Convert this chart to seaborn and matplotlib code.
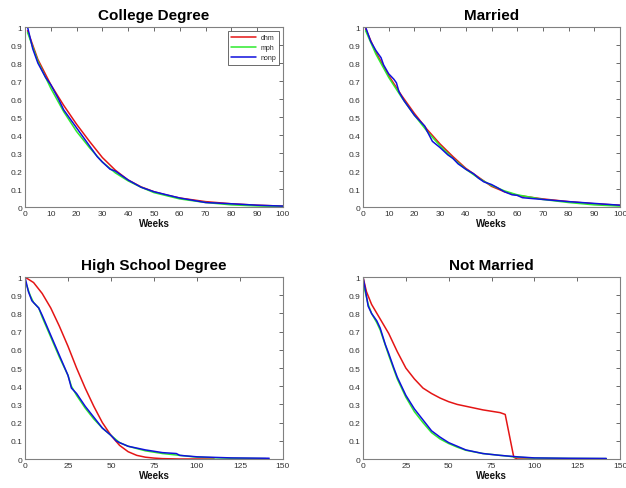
import matplotlib
matplotlib.use("Agg")
import matplotlib.pyplot as plt
import seaborn as sns
import pandas as pd

# ---- data ----
col_w_dhm = [1, 5, 10, 15, 20, 25, 30, 35, 40, 45, 50, 55, 60, 70, 80, 90, 100]
col_dhm = [0.98, 0.82, 0.68, 0.565, 0.46, 0.365, 0.275, 0.205, 0.15, 0.112, 0.085, 0.066, 0.05, 0.03, 0.018, 0.01, 0.005]
col_w_mph = [1, 5, 10, 15, 20, 25, 30, 35, 40, 45, 50, 60, 70, 80, 90, 100]
col_mph = [0.97, 0.81, 0.66, 0.53, 0.42, 0.33, 0.25, 0.19, 0.145, 0.11, 0.08, 0.045, 0.025, 0.012, 0.006, 0.003]
col_w_nonp = [1, 3, 5, 8, 10, 13, 15, 18, 20, 25, 28, 30, 33, 35, 40, 45, 50, 60, 70, 80, 90, 100]
col_nonp = [1.0, 0.88, 0.8, 0.72, 0.68, 0.6, 0.54, 0.48, 0.44, 0.34, 0.28, 0.25, 0.21, 0.2, 0.15, 0.11, 0.085, 0.05, 0.025, 0.018, 0.01, 0.005]

mar_w_dhm = [1, 5, 10, 15, 20, 25, 30, 35, 40, 45, 50, 55, 60, 70, 80, 90, 100]
mar_dhm = [0.99, 0.86, 0.73, 0.62, 0.52, 0.43, 0.35, 0.28, 0.215, 0.165, 0.115, 0.085, 0.065, 0.045, 0.03, 0.018, 0.01]
mar_w_mph = [1, 5, 10, 15, 20, 25, 30, 35, 40, 45, 50, 55, 60, 70, 80, 90, 100]
mar_mph = [0.98, 0.85, 0.72, 0.61, 0.51, 0.42, 0.34, 0.27, 0.21, 0.16, 0.12, 0.09, 0.068, 0.042, 0.025, 0.012, 0.005]
mar_w_nonp = [1, 3, 5, 7, 8, 10, 12, 13, 14, 16, 18, 20, 22, 24, 25, 27, 30, 33, 35, 37, 40, 43, 45, 47, 50, 52, 55, 58, 60, 62, 65, 70, 80, 90, 100]
mar_nonp = [1.0, 0.92, 0.87, 0.83, 0.79, 0.74, 0.71, 0.69, 0.64, 0.59, 0.55, 0.51, 0.48, 0.45, 0.42, 0.365, 0.33, 0.29, 0.27, 0.24, 0.21, 0.185, 0.16, 0.14, 0.125, 0.11, 0.085, 0.068, 0.065, 0.052, 0.048, 0.042, 0.03, 0.02, 0.01]

hs_w_dhm = [0, 5, 10, 15, 20, 25, 30, 35, 40, 45, 50, 55, 60, 65, 70, 75, 80, 90, 110]
hs_dhm = [1.0, 0.97, 0.91, 0.83, 0.73, 0.62, 0.5, 0.39, 0.29, 0.2, 0.13, 0.075, 0.04, 0.02, 0.01, 0.005, 0.002, 0.0, 0.0]
hs_w_mph = [0, 3, 5, 8, 10, 15, 20, 25, 27, 30, 35, 40, 45, 50, 55, 60, 70, 80, 90, 100, 120, 140]
hs_mph = [0.98, 0.9, 0.86, 0.83, 0.78, 0.67, 0.56, 0.46, 0.4, 0.35, 0.28, 0.22, 0.17, 0.13, 0.09, 0.07, 0.045, 0.03, 0.02, 0.01, 0.004, 0.002]
hs_w_nonp = [0, 2, 4, 6, 8, 10, 15, 20, 25, 27, 30, 35, 40, 45, 50, 53, 55, 60, 70, 80, 88, 90, 100, 120, 142]
hs_nonp = [1.0, 0.92, 0.87, 0.85, 0.83, 0.79, 0.68, 0.57, 0.46, 0.39, 0.36, 0.29, 0.23, 0.17, 0.13, 0.1, 0.09, 0.07, 0.05, 0.035, 0.03, 0.02, 0.012, 0.006, 0.004]

nm_w_dhm = [0, 2, 5, 10, 15, 20, 25, 30, 35, 40, 45, 50, 55, 60, 70, 80, 83, 88, 90, 100]
nm_dhm = [1.0, 0.92, 0.85, 0.77, 0.69, 0.59, 0.5, 0.44, 0.39, 0.36, 0.335, 0.315, 0.3, 0.29, 0.27, 0.255, 0.245, 0.01, 0.0, 0.0]
nm_w_mph = [0, 3, 5, 8, 10, 15, 20, 25, 30, 35, 40, 45, 50, 55, 60, 70, 80, 90, 100, 120, 142]
nm_mph = [0.97, 0.85, 0.8, 0.75, 0.71, 0.57, 0.44, 0.34, 0.26, 0.2, 0.145, 0.11, 0.085, 0.065, 0.048, 0.03, 0.02, 0.01, 0.005, 0.003, 0.002]
nm_w_nonp = [0, 1, 3, 5, 8, 10, 13, 15, 18, 20, 25, 30, 35, 40, 45, 50, 55, 60, 70, 80, 90, 100, 120, 142]
nm_nonp = [1.0, 0.95, 0.84, 0.8, 0.76, 0.72, 0.63, 0.58, 0.5, 0.45, 0.35, 0.275, 0.215, 0.155, 0.12, 0.09, 0.07, 0.05, 0.03, 0.02, 0.012, 0.006, 0.004, 0.003]

series_names = ["dhm", "mph", "nonp"]
titles = ["College Degree", "Married", "High School Degree", "Not Married"]
panels = [
    [(col_w_dhm, col_dhm), (col_w_mph, col_mph), (col_w_nonp, col_nonp)],
    [(mar_w_dhm, mar_dhm), (mar_w_mph, mar_mph), (mar_w_nonp, mar_nonp)],
    [(hs_w_dhm, hs_dhm), (hs_w_mph, hs_mph), (hs_w_nonp, hs_nonp)],
    [(nm_w_dhm, nm_dhm), (nm_w_mph, nm_mph), (nm_w_nonp, nm_nonp)],
]
xmax = [100, 100, 150, 150]
xstep = [10, 10, 25, 25]
palette = {"dhm": "#e41515", "mph": "#2eea2e", "nonp": "#1010dd"}

sns.set_style("white")
plt.rcParams["font.family"] = ["Liberation Sans", "DejaVu Sans"]

fig = plt.figure(figsize=(6.26, 4.89), dpi=100)
positions = [
    [0.0399, 0.5746, 0.4121, 0.368],
    [0.5799, 0.5746, 0.4105, 0.368],
    [0.0399, 0.0593, 0.4121, 0.372],
    [0.5799, 0.0593, 0.4105, 0.372],
]

for i in range(4):
    ax = fig.add_axes(positions[i])
    rows = []
    for name, (w, s) in zip(series_names, panels[i]):
        for a, b in zip(w, s):
            rows.append({"week": a, "surv": b, "series": name})
    df = pd.DataFrame(rows)
    sns.lineplot(data=df, x="week", y="surv", hue="series", palette=palette,
                 sort=False, estimator=None, linewidth=1.1, ax=ax,
                 legend=(i == 0))
    ax.set_xlim(0, xmax[i])
    ax.set_ylim(0, 1)
    ax.set_xticks(list(range(0, xmax[i] + 1, xstep[i])))
    ax.set_yticks([k / 10 for k in range(11)])
    ax.set_yticklabels(["0"] + [f"{k/10:g}" for k in range(1, 10)] + ["1"])
    ax.tick_params(direction="in", length=3, width=0.6, labelsize=6,
                   top=True, right=True, colors="#505050", labelcolor="#333333", pad=2)
    for sp in ax.spines.values():
        sp.set_color("#808080")
        sp.set_linewidth(0.8)
    ax.set_title(titles[i], fontsize=11, fontweight="bold", pad=6, color="black")
    ax.set_xlabel("Weeks", fontsize=7, fontweight="bold", labelpad=1, color="#111111")
    ax.set_ylabel("")
    if i == 0:
        leg = ax.legend(loc="upper right", fontsize=5, frameon=True, fancybox=False,
                        edgecolor="#444444", handlelength=3.6, borderaxespad=0.5,
                        labelspacing=0.45, borderpad=0.5, handletextpad=0.6)
        leg.get_frame().set_linewidth(0.7)

fig.savefig("out.png", dpi=100)
